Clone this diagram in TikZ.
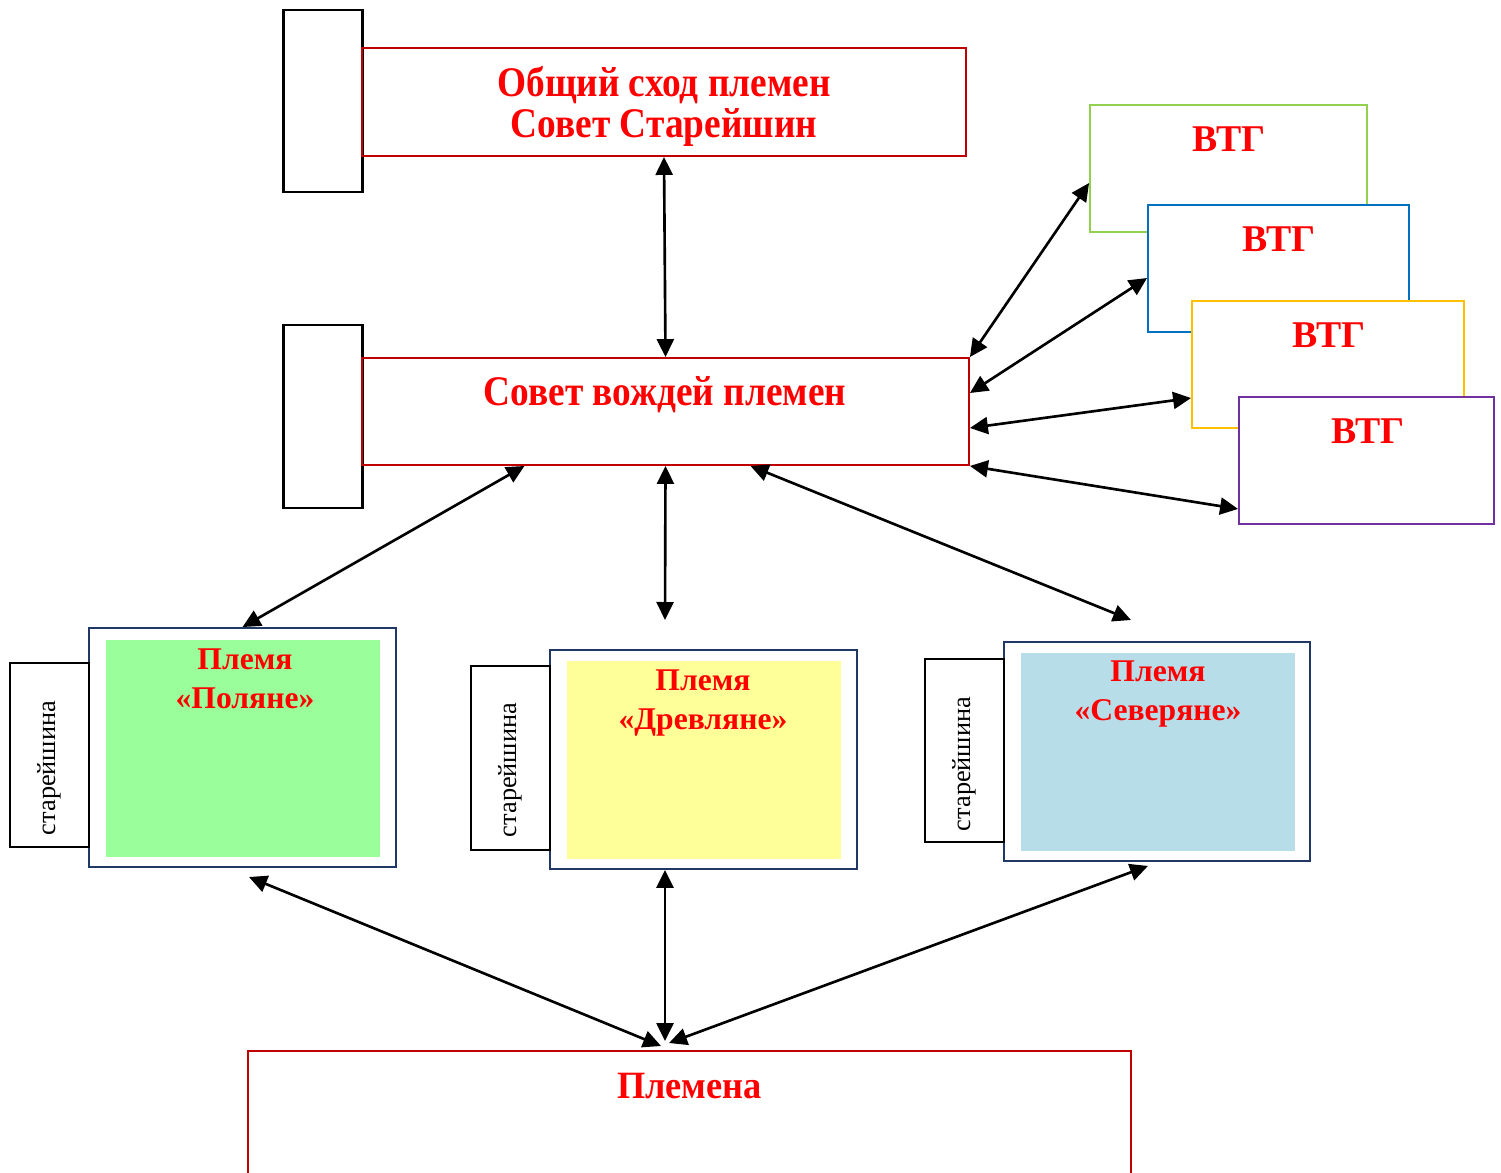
\documentclass[tikz,border=0pt]{standalone}
\usepackage{fontspec}
\setmainfont{Liberation Serif}
\newfontfamily\narrowfont{Liberation Serif}[FakeStretch=0.885]
\newfontfamily\plemfont{Liberation Serif}[FakeStretch=0.94]
\usetikzlibrary{arrows.meta,calc}
\definecolor{boxred}{HTML}{C00000}
\definecolor{vtggreen}{HTML}{92D050}
\definecolor{vtgblue}{HTML}{0070C0}
\definecolor{vtgyellow}{HTML}{FFC000}
\definecolor{vtgpurple}{HTML}{7030A0}
\definecolor{frame}{HTML}{1F3864}
\definecolor{fillgreen}{HTML}{9AFF9A}
\definecolor{fillyellow}{HTML}{FFFF99}
\definecolor{fillblue}{HTML}{B7DDE8}
\tikzset{redbox/.style = {draw=boxred, line width=1.1pt, inner sep=0pt},
         eldbox/.style = {draw=black, line width=1.2pt, fill=white, inner sep=0pt, minimum width=1.58cm},
         vtgbox/.style = {draw=#1, line width=1.1pt, fill=white, inner sep=0pt, minimum height=2.54cm},
         tribe/.style = {draw=frame, line width=1.1pt, fill=white, inner sep=0pt, minimum width=6.14cm},
         inner/.style = {fill=#1, inner sep=0pt, minimum width=5.48cm},
         big/.style = {text=red, inner sep=0pt, align=center, font=\narrowfont\bfseries\fontsize{24}{23.2}\selectfont},
         vtg/.style = {text=red, inner sep=0pt, font=\bfseries\fontsize{21.5}{21.5}\selectfont},
         mid/.style = {text=red, inner sep=0pt, align=center, font=\bfseries\fontsize{18}{22.1}\selectfont},
         eld/.style = {rotate=90, inner sep=0pt, font=\fontsize{15}{15}\selectfont},
         link/.style = {{Triangle[length=0.36cm,width=0.34cm]}-{Triangle[length=0.36cm,width=0.34cm]}, line width=1.5pt}}

\begin{document}
\begin{tikzpicture}[x=0.02cm, y=-0.02cm]
  \useasboundingbox (0,0) rectangle (1501,1173);
  \node[eldbox, minimum height=3.64cm] (eldTop) at (323,101) {};
  \node[redbox, minimum width=12.08cm, minimum height=2.16cm] (shod) at (664,102) {};
  \node[big, anchor=base] (tShod) at (664,137) {Общий сход племен\\Совет Старейшин};
  \node[eldbox, minimum height=3.66cm] (eldMid) at (323,416.5) {};
  \node[redbox, minimum width=12.14cm, minimum height=2.14cm] (sovet) at (665.5,411.5) {};
  \node[big, anchor=base] (tSovet) at (665,405) {Совет вождей племен};

  \node[vtgbox=vtggreen, minimum width=5.54cm] (vtgA) at (1228.5,168.5) {};
  \node[vtg, anchor=base] (tVtgA) at (1229,151) {ВТГ};
  \node[vtgbox=vtgblue, minimum width=5.22cm] (vtgB) at (1278.5,268.5) {};
  \node[vtg, anchor=base] (tVtgB) at (1279,251) {ВТГ};
  \node[vtgbox=vtgyellow, minimum width=5.44cm] (vtgC) at (1328,364.5) {};
  \node[vtg, anchor=base] (tVtgC) at (1329,347) {ВТГ};
  \node[vtgbox=vtgpurple, minimum width=5.1cm] (vtgD) at (1366.5,460.5) {};
  \node[vtg, anchor=base] (tVtgD) at (1368,443) {ВТГ};

  \node[tribe, minimum height=4.78cm] (polyane) at (242.5,747.5) {};
  \node[inner=fillgreen, minimum height=4.34cm] (polyaneIn) at (243,748.5) {};
  \node[eldbox, minimum height=3.68cm] (eldA) at (49.5,755) {};
  \node[eld] (tEldA) at (49,768) {старейшина};
  \node[mid, anchor=base] (tPolyane) at (245,708) {Племя\\«Поляне»};

  \node[tribe, minimum height=4.38cm] (drevl) at (703.5,759.5) {};
  \node[inner=fillyellow, minimum height=3.96cm] (drevlIn) at (704,760) {};
  \node[eldbox, minimum height=3.68cm] (eldB) at (510.5,758) {};
  \node[eld] (tEldB) at (510,770) {старейшина};
  \node[mid, anchor=base] (tDrevl) at (703,729) {Племя\\«Древляне»};

  \node[tribe, minimum width=6.12cm, minimum height=4.38cm] (sever) at (1157,751.5) {};
  \node[inner=fillblue, minimum height=3.96cm] (severIn) at (1158,752) {};
  \node[eldbox, minimum height=3.66cm] (eldC) at (964.5,750.5) {};
  \node[eld] (tEldC) at (964,764) {старейшина};
  \node[mid, anchor=base] (tSever) at (1158,720) {Племя\\«Северяне»};

  \node[redbox, minimum width=17.66cm, minimum height=3cm, anchor=north] (plemena) at (689.5,1050) {};
  \node[anchor=base, text=red, inner sep=0pt, font=\plemfont\bfseries\fontsize{22}{22}\selectfont] (tPlemena) at (689.5,1098) {Племена};

  \coordinate (dTop) at (665,620);
  \coordinate (sTop) at (1131,620);
  \coordinate (pBot) at (249,877);
  \coordinate (hub) at (665,1045);

  \draw[link] (shod.south) -- (sovet.north);
  \draw[link] (sovet.north east) -- ($(vtgA.west)+(0,14.5)$);
  \draw[link] ($(sovet.east)+(0,-18.5)$) -- ($(vtgB.west)+(0,9.5)$);
  \draw[link] ($(sovet.east)+(0,16.5)$) -- ($(vtgC.west)+(0,33.5)$);
  \draw[link] (sovet.south east) -- ($(vtgD.south west)+(0,-16)$);
  \draw[link] ($(sovet.south)+(-141,0)$) -- (polyane.north);
  \draw[link] (sovet.south) -- (dTop);
  \draw[link] ($(sovet.south)+(85,0)$) -- (sTop);
  \draw[link] (pBot) -- ($(hub)+(-4,1)$);
  \draw[link] ($(drevl.south)+(-38.5,0)$) -- ($(hub)+(0,-4)$);
  \draw[link] ($(sever.south)+(-9,4)$) -- ($(hub)+(4,-2)$);
\end{tikzpicture}
\end{document}
